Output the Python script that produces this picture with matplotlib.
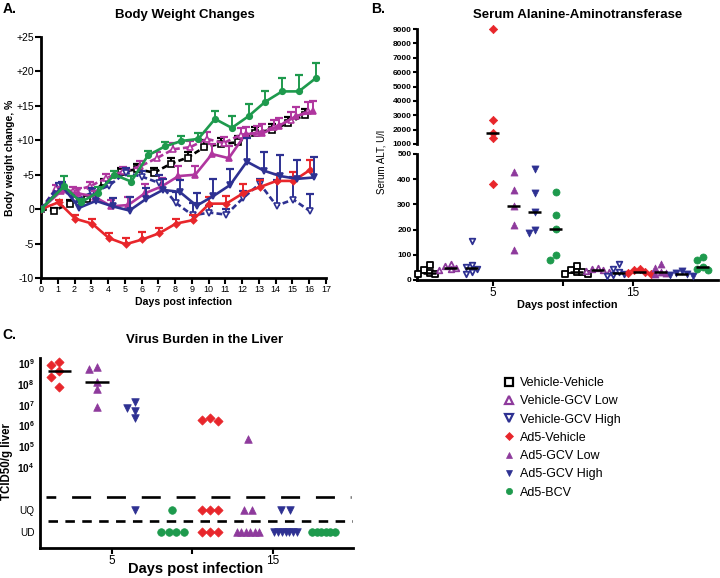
import numpy as np
import matplotlib
matplotlib.use("Agg")
import matplotlib.pyplot as plt
from matplotlib.lines import Line2D

plt.rcParams['font.family'] = ['Liberation Sans', 'DejaVu Sans']
plt.rcParams['mathtext.fontset'] = 'custom'
plt.rcParams['mathtext.rm'] = 'Liberation Sans'
plt.rcParams['mathtext.bf'] = 'Liberation Sans:bold'

# ---------------- data ----------------
groups = ['Vehicle-Vehicle', 'Vehicle-GCV Low', 'Vehicle-GCV High',
          'Ad5-Vehicle', 'Ad5-GCV Low', 'Ad5-GCV High', 'Ad5-BCV']
days = list(range(17))

# A. body weight change (%), mean and SEM (upper bar only), days 0-16
bw_vv = [0, -0.2, 0.8, 1.5, 3.9, 5.4, 5.8, 5.3, 6.6, 7.5, 9.0, 9.5, 9.7, 11.1, 11.5, 12.5, 13.7]
bw_vgl = [0, 3.0, 2.6, 3.3, 4.5, 5.5, 6.2, 7.4, 8.7, 9.0, 10.2, 9.6, 10.8, 11.1, 11.9, 13.0, 14.2]
bw_vgh = [0, 3.4, 1.3, 2.4, 3.4, 5.3, 4.7, 3.8, 0.9, -0.9, -0.5, -0.8, 1.6, 3.7, 0.5, 1.4, -0.3]
bw_a5v = [0, 1.0, -1.4, -2.1, -4.2, -5.1, -4.4, -3.5, -2.1, -1.6, 0.8, 0.8, 2.3, 3.2, 4.1, 4.1, 5.7]
bw_a5gl = [0, 2.6, 2.3, 1.8, 0.4, 0.6, 2.3, 3.3, 4.8, 5.0, 8.0, 7.4, 10.9, 11.0, 12.1, 13.5, 14.2]
bw_a5gh = [0, 3.3, 0.2, 1.2, 0.4, -0.2, 1.5, 2.8, 2.5, 0.5, 1.9, 3.5, 6.9, 5.6, 4.8, 4.4, 4.6]
bw_bcv = [0, 3.3, 1.0, 2.4, 5.0, 4.0, 7.8, 9.1, 9.9, 10.2, 13.1, 11.8, 13.5, 15.6, 17.1, 17.1, 19.0]

sem_vv = [0, 0.3, 0.5, 0.6, 0.5, 0.6, 0.8, 0.7, 0.8, 0.8, 1.0, 0.9, 0.9, 0.9, 0.8, 0.9, 0.8]
sem_vgl = [0, 0.5, 0.6, 0.7, 0.6, 0.6, 0.8, 0.9, 0.9, 0.9, 1.0, 0.9, 1.0, 1.0, 1.0, 1.1, 1.3]
sem_vgh = [0, 0.4, 0.7, 0.7, 0.6, 0.7, 0.8, 1.1, 1.6, 1.8, 0.9, 0.8, 1.0, 0.7, 3.8, 3.3, 2.5]
sem_a5v = [0, 0.3, 0.6, 0.6, 0.7, 0.9, 1.1, 0.8, 0.7, 0.7, 1.0, 1.1, 1.3, 1.1, 1.0, 1.3, 1.5]
sem_a5gl = [0, 0.6, 0.7, 0.8, 1.0, 1.1, 1.4, 1.2, 1.4, 1.2, 1.4, 1.7, 1.1, 1.4, 1.1, 1.3, 1.5]
sem_a5gh = [0, 0.6, 0.8, 0.8, 1.2, 1.9, 1.5, 1.6, 1.7, 1.8, 2.5, 2.4, 3.4, 2.7, 3.0, 2.8, 3.0]
sem_bcv = [0, 1.5, 0.5, 0.8, 0.5, 0.8, 0.6, 0.7, 0.7, 0.8, 1.2, 1.7, 1.8, 1.6, 2.0, 2.4, 2.2]

# B. serum ALT (U/l), individual animals, day 5 then day 15
alt_day5 = [[58, 40, 27, 25, 24],
            [65, 55, 48, 42, 40],
            [155, 60, 52, 45, 30, 25],
            [9000, 2700, 1800, 1400, 380],
            [430, 358, 292, 219, 119],
            [440, 345, 268, 200, 188],
            [349, 259, 202, 99, 80]]
alt_day15 = [[55, 40, 32, 30, 25, 22],
             [48, 42, 40, 35, 32],
             [65, 45, 30, 25, 20, 15],
             [45, 38, 30, 28, 25],
             [65, 48, 30, 28, 22],
             [35, 28, 25, 18, 15],
             [90, 78, 53, 45, 40]]

# C. liver virus titer (TCID50/g), Ad5 groups at day 5 then day 15
vb_groups = ['Ad5-Vehicle', 'Ad5-GCV Low', 'Ad5-GCV High', 'Ad5-BCV'] * 2
vb_titers = [[4.3e8, 8.3e8, 1.1e9, 2.1e8, 7.5e7],
             [1.3e8, 5.1e8, 6.9e8, 5.5e7, 7.9e6],
             [4.9e6, 6.6e6, 1.4e7, 2.2e6],
             [],
             [2.3e6, 1.6e6, 1.8e6],
             [2.3e5],
             [],
             []]
vb_uq = [0, 0, 1, 1, 3, 2, 2, 0]   # under quantification limit
vb_ud = [0, 0, 0, 4, 3, 6, 7, 6]   # undetectable

# ---------------- styles ----------------
colors = ['black', '#8e3a9c', '#2e3192', '#e8262b', '#8e3a9c', '#2e3192', '#1e9a4d']
colors_a = ['black', '#b0369f', '#2e3192', '#e8262b', '#b0369f', '#2e3192', '#1e9a4d']
markers = ['s', '^', 'v', 'D', '^', 'v', 'o']
hollow = [True, True, True, False, False, False, False]
W, H = 720, 578


def rect(l, t, r, b):
    return [l / W, 1 - b / H, (r - l) / W, (b - t) / H]


def swarm(ax, x0, vals, step, size_px):
    vals = np.asarray(vals, dtype=float)
    ys = ax.transData.transform(np.column_stack([np.full(len(vals), x0), vals]))[:, 1]
    offs = np.zeros(len(vals))
    placed = []
    for i in np.argsort(-vals, kind='stable'):
        for k in [0, -1, 1, -2, 2, -3, 3, -4, 4]:
            if all(not (pk == k and abs(ys[i] - py) < size_px) for pk, py in placed):
                break
        placed.append((k, ys[i]))
        offs[i] = k * step
    return offs


def style_axis(ax, lw=2):
    for s in ['top', 'right']:
        ax.spines[s].set_visible(False)
    for s in ['left', 'bottom']:
        ax.spines[s].set_linewidth(lw)


fig = plt.figure(figsize=(7.2, 5.78), dpi=100)

# ---------------- A: body weight ----------------
axA = fig.add_axes(rect(41, 37, 326, 278))
style_axis(axA)
bw_means = [bw_vv, bw_vgl, bw_vgh, bw_a5v, bw_a5gl, bw_a5gh, bw_bcv]
bw_sems = [sem_vv, sem_vgl, sem_vgh, sem_a5v, sem_a5gl, sem_a5gh, sem_bcv]
shift = [-0.25, -0.1, 0.05, 0.05, 0.2, 0.28, 0.38]
for i in range(len(groups)):
    x = np.array(days, dtype=float) + shift[i]
    x[0] = 0
    y = np.array(bw_means[i])
    e = np.array(bw_sems[i])
    c = colors_a[i]
    z = 2 + i
    axA.vlines(x[1:], y[1:], y[1:] + e[1:], color=c, lw=1.4, zorder=z)
    axA.plot(x[1:], y[1:] + e[1:], ls='none', marker='_', ms=6, mew=1.6, color=c, zorder=z)
    axA.plot(x, y, ls=(0, (2.2, 1.2)) if hollow[i] else '-', lw=1.9, color=c,
             marker=markers[i], ms=3.2 if markers[i] == 'D' else 4,
             mfc='white' if hollow[i] else c, mec=c, mew=1.2, zorder=z)
axA.set_xlim(0, 17)
axA.set_ylim(-10, 25)
axA.set_xticks(range(0, 18))
axA.set_yticks(range(-10, 30, 5))
axA.set_yticklabels([('+%d' % v if v > 0 else '%d' % v) for v in range(-10, 30, 5)])
axA.tick_params(axis='y', direction='out', length=4, width=1.5, labelsize=7.5, pad=1)
axA.tick_params(axis='x', direction='out', length=4, width=1.5, labelsize=6.5, pad=1)
axA.set_xlabel('Days post infection', fontsize=7.6, fontweight='bold', labelpad=2)
axA.set_ylabel('Body weight change, %', fontsize=7.5, fontweight='bold', labelpad=1)
fig.text(185 / W, 1 - 15 / H, 'Body Weight Changes', ha='center', va='center',
         fontsize=9.5, fontweight='bold')
fig.text(3 / W, 1 - 9 / H, 'A.', ha='left', va='center', fontsize=10, fontweight='bold')

# ---------------- B: serum ALT (broken axis) ----------------
axBu = fig.add_axes(rect(417, 29, 718, 144))
axBl = fig.add_axes(rect(417, 154, 718, 280))
for ax in (axBu, axBl):
    style_axis(ax)
    ax.set_xlim(-0.4, 21.1)
axBu.spines['bottom'].set_visible(False)
axBu.set_ylim(1000, 9000)
axBl.set_ylim(0, 500)
axBu.set_yticks(range(1000, 10000, 1000))
axBl.set_yticks(range(0, 600, 100))
axBu.set_xticks([])
axBl.set_xticks([5, 10, 15])
axBl.set_xticklabels(['5', '', '15'])
for ax in (axBu, axBl):
    ax.tick_params(axis='y', direction='out', length=3, width=1.5, labelsize=6, pad=1)
    for t in ax.get_yticklabels():
        t.set_fontweight('bold')
axBl.tick_params(axis='x', direction='out', length=4, width=1.5, labelsize=8.5, pad=1)
axBl.set_xlabel('Days post infection', fontsize=7.8, fontweight='bold', labelpad=1)
fig.text(381 / W, 1 - 162 / H, 'Serum ALT, U/l', rotation=90, ha='center', va='center',
         fontsize=7)
fig.text(578 / W, 1 - 15 / H, 'Serum Alanine-Aminotransferase', ha='center', va='center',
         fontsize=9.5, fontweight='bold')
fig.text(371 / W, 1 - 9 / H, 'B.', ha='left', va='center', fontsize=10, fontweight='bold')

alt_all = alt_day5 + alt_day15
for j, vals in enumerate(alt_all):
    g = j % 7
    pos = 0.5 + 1.5 * j
    c = colors[g]
    vals = np.array(vals, dtype=float)
    med = np.median(vals)
    for ax, mask in ((axBu, vals >= 1000), (axBl, vals < 1000)):
        if not mask.any():
            continue
        v = vals[mask]
        offs = swarm(ax, pos, v, 0.4, 5.5)
        ax.scatter(pos + offs, v, marker=markers[g], s=16 if hollow[g] else (18 if markers[g] == 'D' else 26),
                   facecolors='white' if hollow[g] else c, edgecolors=c,
                   linewidths=1.3 if hollow[g] else 0.5, clip_on=False, zorder=3)
    axm = axBu if med >= 1000 else axBl
    axm.hlines(med, pos - 0.45, pos + 0.45, color='black', lw=1.8, zorder=4)

# ---------------- C: virus burden ----------------
axC = fig.add_axes(rect(40, 358, 353, 548))
style_axis(axC)
axC.set_xlim(0.5, 20)
axC.set_ylim(0.1, 9.25)
uq_y, ud_y = 1.93, 0.875
axC.set_yticks([ud_y, uq_y, 4, 5, 6, 7, 8, 9])
axC.set_yticklabels(['UD', 'UQ'] + [r'$\mathbf{10^{%d}}$' % p for p in range(4, 10)])
axC.tick_params(axis='y', length=0, labelsize=7.2, pad=4)
axC.set_xticks([5, 10, 15])
axC.set_xticklabels(['5', '', '15'])
axC.tick_params(axis='x', direction='out', length=4, width=1.5, labelsize=8.5, pad=1)
fig.text(196 / W, 1 - 569 / H, 'Days post infection', ha='center', va='center',
         fontsize=10.5, fontweight='bold')
fig.text(7 / W, 1 - 462 / H, 'TCID50/g liver', rotation=90, ha='center', va='center',
         fontsize=8.3, fontweight='bold')
fig.text(205 / W, 1 - 340 / H, 'Virus Burden in the Liver', ha='center', va='center',
         fontsize=9.5, fontweight='bold')
fig.text(2 / W, 1 - 335 / H, 'C.', ha='left', va='center', fontsize=10, fontweight='bold')

axC.plot([0.875, 19.9], [2.56, 2.56], color='black', lw=1.9, ls=(3.5, (7.2, 6)))
axC.plot([1.0, 20.06], [1.4, 1.4], color='black', lw=1.9, ls=(0, (3.6, 2.8)))

for j, gname in enumerate(vb_groups):
    g = groups.index(gname)
    c = colors[g]
    pos = 1.7 + 2.35 * j
    kw = dict(marker=markers[g], s=30 if markers[g] != 'D' else 22, color=c,
              linewidths=0.5, clip_on=False, zorder=3)
    if vb_titers[j]:
        lv = np.log10(vb_titers[j])
        offs = swarm(axC, pos, lv, 0.5, 7)
        axC.scatter(pos + offs, lv, **kw)
        if vb_uq[j] + vb_ud[j] == 0:
            axC.hlines(np.median(lv), pos - 0.72, pos + 0.72, color='black', lw=1.8, zorder=4)
    for n, yrow in ((vb_uq[j], uq_y), (vb_ud[j], ud_y)):
        if n:
            step = min(0.52, 1.4 / max(n - 1, 1))
            xs = pos + step * (np.arange(n) - (n - 1) / 2)
            axC.scatter(xs, np.full(n, yrow), **kw)

# ---------------- legend ----------------
handles = []
for g in range(len(groups)):
    big = hollow[g]
    handles.append(Line2D([], [], ls='none', marker=markers[g],
                          ms=6 if big else (3.8 if markers[g] == 'D' else 4.5),
                          mfc='white' if big else colors[g], mec=colors[g],
                          mew=1.6 if big else 0.5))
fig.legend(handles, groups, loc='upper left', bbox_to_anchor=(503.7 / W, 1 - 377 / H),
           frameon=False, fontsize=9, handlelength=0.8, handletextpad=0.5,
           labelspacing=0.5, borderaxespad=0, borderpad=0)

fig.savefig('out.png', dpi=100)
